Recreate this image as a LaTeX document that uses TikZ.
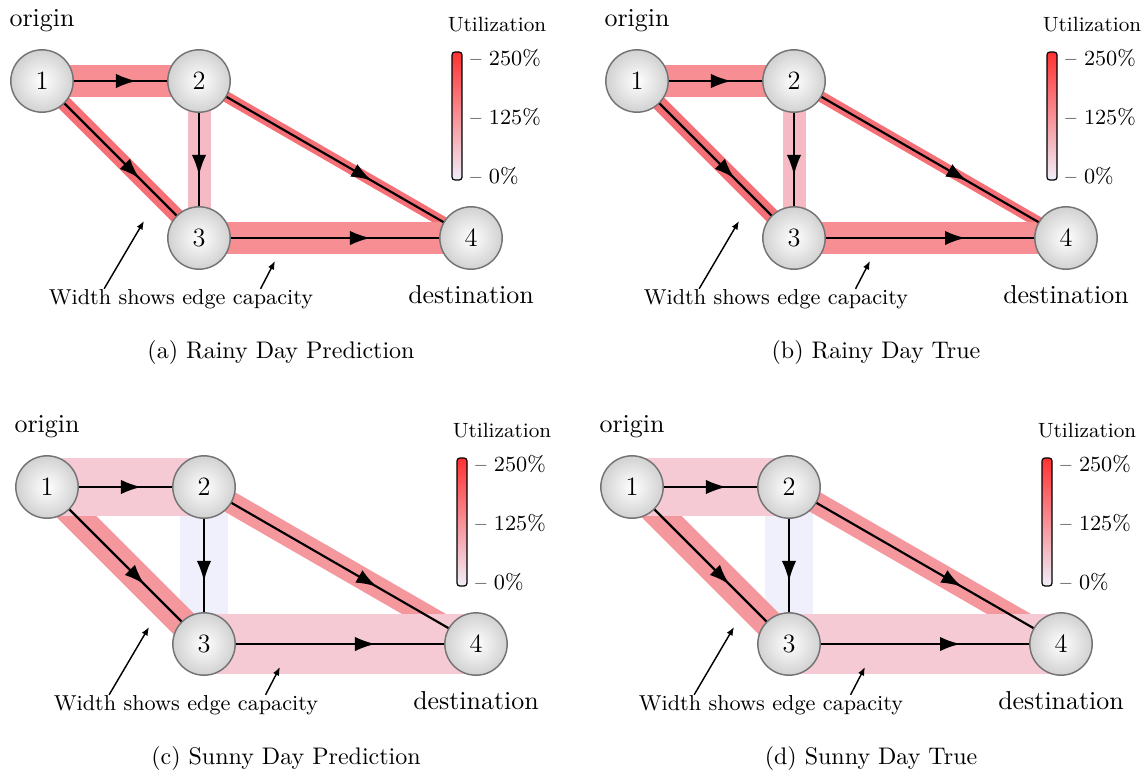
\documentclass[tikz,border=0pt]{standalone}
\usetikzlibrary{arrows.meta,decorations.markings,calc}
\pgfdeclarelayer{background}
\pgfsetlayers{background,main}

\definecolor{utilhi}{RGB}{244,112,118}
\definecolor{utilmd}{RGB}{246,142,147}
\definecolor{utillo}{RGB}{245,186,196}
\definecolor{utilsd}{RGB}{245,152,158}
\definecolor{utilpk}{RGB}{245,202,212}
\definecolor{utilnil}{RGB}{240,240,252}
\definecolor{cbtop}{RGB}{255,50,50}
\definecolor{cbmid}{RGB}{246,160,168}
\definecolor{cbbot}{RGB}{240,238,250}

\def\px{0.4167pt}

\tikzset{
  stn/.style={circle,draw=black!55,line width=0.6pt,minimum size=26pt,inner sep=0pt,
    inner color=white,outer color=black!18,font=\fontsize{11}{13}\selectfont},
  band/.style={line cap=butt},
  flow/.style={line width=0.9pt,postaction={decorate},
    decoration={markings,mark=at position 0.67 with {\arrow{Latex[length=8.5pt,width=6pt]}}}},
  pointer/.style={line width=0.6pt,-{Latex[length=3.5pt,width=2.8pt]}},
  lbl/.style={inner sep=0pt,font=\fontsize{10.8}{13}\selectfont},
  note/.style={inner sep=0pt,font=\small},
  cbar/.style={draw=black,line width=0.5pt,rounded corners=1.2pt,
    top color=cbtop,middle color=cbmid,bottom color=cbbot},
  ticklbl/.style={anchor=west,inner sep=0pt,font=\small},
  cbtitle/.style={inner sep=0pt,font=\fontsize{8.6}{10}\selectfont},
}

% #1 prefix, #2 shift, #3 bands (from/to/width/colour), #4 caption
\newcommand{\netpanel}[4]{%
  \begin{scope}[shift={#2}]
    \node[stn] (#11) at (42,81) {1};
    \node[stn] (#12) at (199,81) {2};
    \node[stn] (#13) at (199,238) {3};
    \node[stn] (#14) at (471,238) {4};
    \begin{pgfonlayer}{background}
      \foreach \a/\b/\w/\c in {#3}
        \draw[band,line width=\w*\px,draw=\c] (#1\a.center) -- (#1\b.center);
    \end{pgfonlayer}
    \draw[flow] (#11) -- (#12);
    \draw[flow] (#11) -- (#13);
    \draw[flow] (#12) -- (#13);
    \draw[flow] (#12) -- (#14);
    \draw[flow] (#13) -- (#14);
    \node[lbl] (#1org) at (42,21) {origin};
    \node[lbl] (#1dst) at (471,295) {destination};
    \node[note] (#1note) at (181,299) {Width shows edge capacity};
    \coordinate (#1p) at (144,221);
    \coordinate (#1q) at (275,261);
    \draw[pointer] ($(#1note.north west)!0.21!(#1note.north east)$) -- (#1p);
    \draw[pointer] ($(#1note.north west)!0.80!(#1note.north east)$) -- (#1q);
    % colour bar
    \node[cbtitle] (#1ut) at (497,25) {Utilization};
    \draw[cbar] (452,52) rectangle (462,180);
    \node[ticklbl] (#1hi) at (470,58) {-- 250\%};
    \node[ticklbl] (#1md) at (470,117) {-- 125\%};
    \node[ticklbl] (#1lo) at (470,176) {-- 0\%};
    \node (#1cap) at (281,352) {#4};
  \end{scope}}

\begin{document}
\begin{tikzpicture}[x=\px,y=-\px]
  \useasboundingbox (0,0) rectangle (1145,771);
  \netpanel{a}{(0,0)}{2/3/23/utillo,1/3/15/utilhi,2/4/11/utilhi,1/2/32/utilmd,3/4/32/utilmd}{(a) Rainy Day Prediction}
  \netpanel{b}{(595,0)}{2/3/23/utillo,1/3/15/utilhi,2/4/11/utilhi,1/2/32/utilmd,3/4/32/utilmd}{(b) Rainy Day True}
  \netpanel{c}{(5,406)}{2/3/48/utilnil,1/3/29/utilsd,2/4/22/utilsd,1/2/58/utilpk,3/4/60/utilpk}{(c) Sunny Day Prediction}
  \netpanel{d}{(590,406)}{2/3/48/utilnil,1/3/29/utilsd,2/4/22/utilsd,1/2/58/utilpk,3/4/60/utilpk}{(d) Sunny Day True}
\end{tikzpicture}
\end{document}
